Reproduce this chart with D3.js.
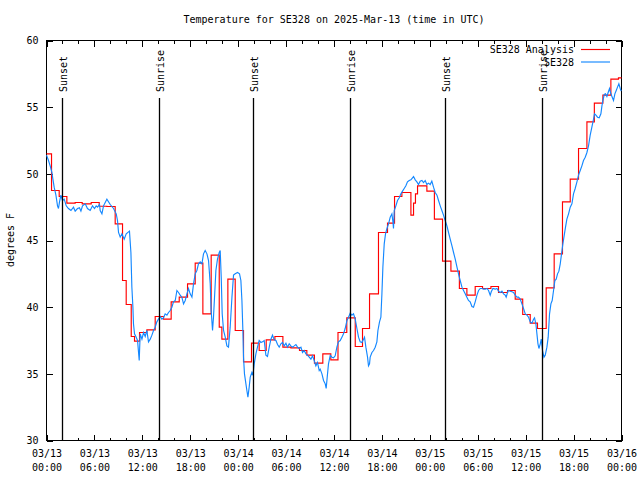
<!DOCTYPE html>
<html><head><meta charset="utf-8">
<script src="https://cdn.jsdelivr.net/npm/d3@7"></script>
<style>
body{margin:0;background:#fff}
svg{display:block}
text{font-family:"DejaVu Sans Mono",monospace;font-size:10px;fill:#000}
</style>
</head><body>
<svg id="chart" width="640" height="480"></svg>
<script>
const titleText = "Temperature for SE328 on 2025-Mar-13 (time in UTC)";
const yLabel = "degrees F";
const seriesNames = ["SE328 Analysis", "SE328"];
const seriesColors = ["#ff0000", "#1488ff"];
const startUTC = Date.UTC(2025, 2, 13, 0, 0);
const yTicks = [30, 35, 40, 45, 50, 55, 60];
const xMajorHours = [0, 6, 12, 18, 24, 30, 36, 42, 48, 54, 60, 66, 72];
const xMinorHours = d3.range(0, 73, 2);
const eventHours = [1.88, 14.1, 25.9, 38.05, 49.92, 62.08];
const eventLabels = ["Sunset", "Sunrise", "Sunset", "Sunrise", "Sunset", "Sunrise"];

// Analysis (step) series: hour at which each value begins
const redHours = [0,0.63,1.59,2.55,3.59,4.47,5.6,6.6,7.56,8.6,9.52,9.98,10.61,11.02,11.65,12.57,13.61,14.65,15.61,16.62,17.66,18.62,19.58,20.62,21.63,21.96,22.71,23.63,24.67,25.67,26.63,27.51,28.6,29.6,30.6,31.68,32.6,33.55,34.6,35.6,36.5,37.6,38.66,39.57,40.45,41.57,42.7,43.58,44.5,45.63,45.96,46.2,46.46,47.63,48.57,49.59,50.64,51.7,52.64,53.68,54.6,55.65,56.6,57.73,58.69,59.63,60.57,61.48,62.57,63.57,64.61,65.58,66.62,67.67,68.6,69.67,70.67,71.62,72];
const redTemps = [51.5,48.75,48.3,47.8,47.85,47.75,47.85,47.57,47.55,46.25,42.0,40.2,37.8,37.45,38.1,38.3,39.3,39.1,40.4,40.75,41.75,43.3,39.5,43.9,38.5,37.6,42.1,38.25,35.9,37.3,36.75,37.55,37.8,37.0,36.95,36.75,36.4,35.8,36.5,36.05,38.1,39.2,37.05,38.4,41.0,45.6,46.3,48.3,48.6,46.9,47.8,48.5,49.1,48.7,46.6,43.45,42.7,41.4,40.9,41.55,41.4,41.55,41.1,41.25,40.6,39.45,38.8,38.4,41.45,44.0,47.9,49.6,51.9,53.9,55.3,55.9,57.1,57.2,57.2];

// Observations
const obsHours = [0.00,0.25,0.46,0.68,0.80,0.96,1.18,1.38,1.50,1.63,1.80,2.00,2.22,2.47,2.75,3.06,3.38,3.59,3.88,4.13,4.31,4.51,4.85,5.13,5.47,5.76,6.01,6.22,6.39,6.64,6.72,6.94,7.14,7.56,7.98,8.39,8.73,8.89,9.02,9.23,9.44,9.73,9.98,10.39,10.57,10.69,10.82,10.89,11.02,11.23,11.40,11.61,11.73,11.95,12.15,12.36,12.57,12.77,12.99,13.20,13.40,13.61,13.82,14.02,14.24,14.45,14.65,14.86,15.08,15.28,15.49,15.70,15.90,16.12,16.33,16.53,16.74,16.95,17.16,17.37,17.58,17.78,17.99,18.21,18.41,18.62,18.83,19.03,19.25,19.46,19.66,19.87,20.09,20.29,20.50,20.62,20.79,20.91,21.04,21.21,21.41,21.63,21.75,21.88,22.00,22.17,22.38,22.59,22.79,23.00,23.22,23.42,23.63,23.92,24.17,24.34,24.47,24.59,24.67,24.79,24.97,25.09,25.22,25.38,25.51,25.72,25.85,26.01,26.22,26.42,26.63,26.85,27.05,27.26,27.47,27.67,27.89,28.10,28.30,28.51,28.73,28.93,29.14,29.35,29.55,29.77,29.98,30.18,30.39,30.60,30.80,31.02,31.23,31.43,31.64,31.86,32.06,32.27,32.48,32.68,32.90,33.11,33.31,33.52,33.73,33.93,34.15,34.27,34.49,34.69,34.90,35.02,35.15,35.31,35.53,35.74,35.94,36.15,36.36,36.56,36.78,36.99,37.19,37.40,37.62,37.82,38.03,38.24,38.44,38.66,38.87,39.07,39.28,39.49,39.70,39.82,39.99,40.20,40.32,40.45,40.53,40.75,40.95,41.16,41.37,41.50,41.70,41.87,42.00,42.12,42.29,42.45,42.63,42.83,43.04,43.25,43.38,43.45,43.54,43.75,43.95,44.17,44.38,44.58,44.79,45.00,45.20,45.42,45.63,45.83,45.96,46.17,46.38,46.58,46.79,47.01,47.21,47.42,47.63,47.83,48.04,48.25,48.46,48.67,48.89,49.09,49.30,49.51,49.71,49.92,50.14,50.34,50.55,50.77,50.97,51.18,51.40,51.59,51.80,52.02,52.22,52.43,52.64,52.84,53.05,53.27,53.47,53.68,53.90,54.10,54.31,54.52,54.72,54.94,55.15,55.35,55.56,55.69,55.90,56.19,56.40,56.60,56.81,57.03,57.23,57.44,57.56,57.73,57.85,58.06,58.28,58.48,58.69,58.90,59.10,59.32,59.53,59.73,59.95,60.16,60.36,60.57,60.78,60.99,61.11,61.29,61.41,61.54,61.66,61.83,61.95,62.11,62.29,62.45,62.66,62.82,62.99,63.16,63.32,63.49,63.66,63.82,63.99,64.16,64.33,64.49,64.66,64.83,64.99,65.16,65.37,65.58,65.79,65.99,66.20,66.42,66.62,66.83,67.04,67.24,67.46,67.67,67.87,68.08,68.29,68.50,68.62,68.80,69.00,69.21,69.42,69.55,69.67,69.84,70.00,70.17,70.33,70.50,70.67,70.84,71.00,71.17,71.34,71.50,71.67,71.84,71.96];
const obsTemps = [51.4,51.0,50.6,50.1,49.6,49.0,48.4,47.6,47.4,47.9,48.4,48.0,48.1,47.6,47.4,47.25,47.5,47.2,47.4,47.45,47.2,47.6,47.75,47.4,47.25,47.6,47.4,47.6,47.5,47.7,47.25,47.0,47.6,48.1,47.7,47.4,47.0,46.5,45.6,45.25,45.5,45.1,45.5,45.7,44.1,41.5,40.0,38.75,38.0,37.75,37.5,36.0,38.0,37.6,38.1,37.8,38.25,37.4,37.6,37.9,38.25,38.5,38.9,39.1,39.3,39.1,39.2,39.5,39.4,39.6,39.75,40.0,40.4,40.5,41.25,41.1,40.9,40.75,40.25,40.5,41.0,41.4,41.0,40.75,41.75,42.5,42.75,43.25,43.4,43.25,44.0,44.25,44.0,43.5,41.75,39.75,38.25,39.25,40.75,42.75,43.6,44.1,44.25,42.25,39.5,38.25,37.75,37.1,37.0,38.5,40.75,42.4,42.5,42.6,42.5,42.0,40.5,38.25,36.25,35.0,34.25,33.75,33.25,34.0,34.75,35.1,34.9,35.75,36.5,37.0,37.5,37.35,37.4,37.5,36.4,36.3,37.0,37.6,37.9,37.55,37.5,37.2,37.0,37.25,37.35,37.1,37.3,37.0,37.25,37.1,37.0,37.1,37.2,37.0,36.9,37.0,36.6,36.75,36.5,36.4,36.25,36.1,36.35,36.0,35.6,35.85,35.25,35.35,35.0,34.5,34.25,33.9,34.75,35.75,36.4,36.25,36.2,36.35,37.0,37.4,37.5,37.75,38.0,38.4,39.0,39.25,39.55,39.4,39.5,39.1,38.4,37.75,37.4,37.35,37.6,37.75,37.0,36.25,35.6,35.75,36.25,36.6,36.75,37.0,37.4,38.25,38.9,39.25,41.0,43.0,44.75,45.5,45.9,46.25,46.75,47.0,46.4,45.9,47.25,47.6,48.0,48.2,48.5,48.7,48.9,49.1,49.4,49.5,49.55,49.7,49.8,49.55,49.4,49.2,49.45,49.5,49.35,49.5,49.2,49.3,49.2,49.45,49.0,48.6,48.4,48.0,47.6,47.25,46.9,46.5,46.1,45.6,45.1,44.6,44.1,43.6,43.0,42.5,42.0,41.5,41.25,41.0,40.75,40.5,40.4,40.05,40.0,40.4,40.9,41.25,41.4,41.4,41.35,41.35,41.4,41.25,40.9,41.15,41.4,41.35,41.4,41.2,41.1,41.2,41.0,40.9,40.75,41.1,41.25,41.2,41.15,41.1,40.9,40.75,40.75,40.6,40.25,39.9,39.5,39.4,39.25,38.9,38.8,39.1,39.2,38.7,38.0,37.25,36.9,37.25,37.6,36.75,36.25,36.4,37.0,37.75,39.5,40.25,40.5,41.25,42.0,42.1,42.5,42.7,43.25,44.0,44.75,45.4,46.0,46.6,47.0,47.5,47.75,48.5,48.9,49.4,49.9,50.25,50.6,51.0,51.25,51.6,52.1,52.9,53.5,54.1,54.5,54.4,54.25,54.2,54.5,55.1,55.5,55.95,56.0,55.8,56.1,56.4,56.0,55.75,55.5,56.0,56.25,56.5,56.75,56.4,56.2];

const hourToDate = h => new Date(startUTC + h * 3600000);
const L = 46.5, R = 621.5, T = 40.5, B = 440.5;
const svg = d3.select("#chart");

const x = d3.scaleUtc().domain([hourToDate(0), hourToDate(72)]).range([L, R]);
const y = d3.scaleLinear().domain([30, 60]).range([B, T]);

const fmtDate = d3.utcFormat("%m/%d"), fmtTime = d3.utcFormat("%H:%M");

// title
svg.append("text").attr("x", (L + R) / 2).attr("y", 23).attr("text-anchor", "middle").text(titleText);
// y label
svg.append("text").attr("transform", "translate(13.5,240) rotate(-90)").attr("text-anchor", "middle").text(yLabel);

const tickStyle = g => { g.select(".domain").remove(); g.selectAll("line").attr("stroke", "#000").attr("shape-rendering", "crispEdges"); };
// minor x ticks
svg.append("g").attr("transform", `translate(0,${B})`)
  .call(d3.axisBottom(x).tickValues(xMinorHours.map(hourToDate)).tickSize(-3).tickFormat(""))
  .call(tickStyle);
svg.append("g").attr("transform", `translate(0,${T})`)
  .call(d3.axisTop(x).tickValues(xMinorHours.map(hourToDate)).tickSize(-3).tickFormat(""))
  .call(tickStyle);
// major x ticks
const xb = svg.append("g").attr("transform", `translate(0,${B})`)
  .call(d3.axisBottom(x).tickValues(xMajorHours.map(hourToDate)).tickSize(-6).tickPadding(10).tickFormat(fmtDate))
  .call(tickStyle);
xb.selectAll("text").each(function(d) {
  const t = d3.select(this);
  t.text(null).attr("y", 0).attr("dy", null).attr("fill", "#000")
    .attr("font-family", "DejaVu Sans Mono").attr("font-size", 10);
  t.append("tspan").attr("x", 0).attr("y", 16.5).text(fmtDate(d));
  t.append("tspan").attr("x", 0).attr("y", 30.5).text(fmtTime(d));
});
svg.append("g").attr("transform", `translate(0,${T})`)
  .call(d3.axisTop(x).tickValues(xMajorHours.map(hourToDate)).tickSize(-6).tickFormat(""))
  .call(tickStyle);
// y ticks
const yl = svg.append("g").attr("transform", `translate(${L},0)`)
  .call(d3.axisLeft(y).tickValues(yTicks).tickSize(-6).tickPadding(8).tickFormat(d3.format("d")))
  .call(tickStyle);
yl.selectAll("text").attr("fill", "#000").attr("font-family", "DejaVu Sans Mono").attr("font-size", 10);
svg.append("g").attr("transform", `translate(${R},0)`)
  .call(d3.axisRight(y).tickValues(yTicks).tickSize(-6).tickFormat(""))
  .call(tickStyle);

// frame
svg.append("rect").attr("x", L).attr("y", T).attr("width", R - L).attr("height", B - T)
  .attr("fill", "none").attr("stroke", "#000").attr("shape-rendering", "crispEdges");

// data
const red = redHours.map((h, i) => [hourToDate(h), redTemps[i]]);
const obs = obsHours.map((h, i) => [hourToDate(h), obsTemps[i]]);
svg.append("path").datum(red)
  .attr("d", d3.line().x(d => x(d[0])).y(d => y(d[1])).curve(d3.curveStepAfter))
  .attr("fill", "none").attr("stroke", seriesColors[0]).attr("stroke-width", 1.15);
svg.append("path").datum(obs)
  .attr("d", d3.line().x(d => x(d[0])).y(d => y(d[1])))
  .attr("fill", "none").attr("stroke", seriesColors[1]).attr("stroke-width", 1.15);

// sunrise / sunset markers
eventHours.forEach((h, i) => {
  const ex = Math.round(x(hourToDate(h))) + 0.5;
  svg.append("line").attr("x1", ex).attr("x2", ex).attr("y1", 98).attr("y2", B)
    .attr("stroke", "#000").attr("stroke-width", 1.3);
  svg.append("text").attr("transform", `translate(${ex + 4.5},92) rotate(-90)`).text(eventLabels[i]);
});

// legend
seriesNames.forEach((name, i) => {
  const ly = 49.5 + i * 12.5;
  svg.append("text").attr("x", 574).attr("y", ly + 3.5).attr("text-anchor", "end").text(name);
  svg.append("line").attr("x1", 581).attr("x2", 610).attr("y1", ly).attr("y2", ly)
    .attr("stroke", seriesColors[i]).attr("stroke-width", 1.15);
});
</script>
</body></html>
